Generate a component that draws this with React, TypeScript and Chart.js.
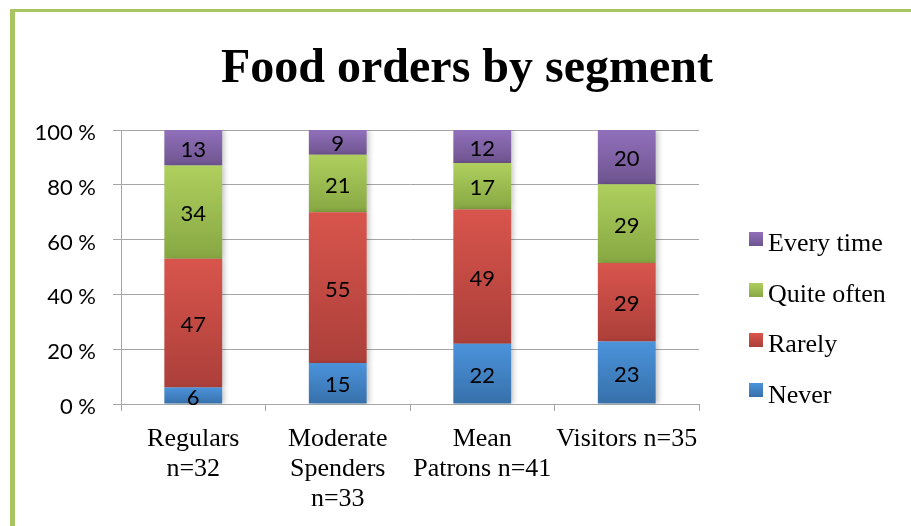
import React, { useEffect, useRef } from "react";
import { Chart, registerables } from "chart.js";

Chart.register(...registerables);

const title = "Food orders by segment";
const categories: string[][] = [
  ["Regulars", "n=32"],
  ["Moderate", "Spenders", "n=33"],
  ["Mean", "Patrons n=41"],
  ["Visitors n=35"],
];
const seriesNames = ["Never", "Rarely", "Quite often", "Every time"];
const never = [6, 15, 22, 23];
const rarely = [47, 55, 49, 29];
const quiteOften = [34, 21, 17, 29];
const everyTime = [13, 9, 12, 20];
const yTicks = [0, 20, 40, 60, 80, 100];

const seriesValues = [never, rarely, quiteOften, everyTime];
const colorTop = ["#4b93db", "#d8554c", "#afd05e", "#9170bb"];
const colorBottom = ["#3770aa", "#ac3f3a", "#87a743", "#6e548f"];

const totals = categories.map((_, i) => seriesValues.reduce((s, arr) => s + arr[i], 0));
const percents = seriesValues.map((arr) => arr.map((v, i) => (v / totals[i]) * 100));

function makeBg(dsi: number) {
  return (ctx: any) => {
    const chart = ctx.chart;
    const y = chart.scales && chart.scales.y;
    if (ctx.type !== "data" || !y) return colorTop[dsi];
    const di = ctx.dataIndex;
    let start = 0;
    for (let k = 0; k < dsi; k++) start += percents[k][di];
    const end = start + percents[dsi][di];
    const yt = y.getPixelForValue(end);
    const yb = y.getPixelForValue(start);
    if (!isFinite(yt) || !isFinite(yb) || yt === yb) return colorTop[dsi];
    const g = chart.ctx.createLinearGradient(0, yt, 0, yb);
    g.addColorStop(0, colorTop[dsi]);
    g.addColorStop(1, colorBottom[dsi]);
    return g;
  };
}

const shadowPlugin = {
  id: "barShadow",
  beforeDatasetDraw(chart: any) {
    const c = chart.ctx;
    c.save();
    c.shadowColor = "rgba(0,0,0,0.22)";
    c.shadowBlur = 5;
    c.shadowOffsetX = 3;
    c.shadowOffsetY = 0;
  },
  afterDatasetDraw(chart: any) {
    chart.ctx.restore();
  },
};

const labelPlugin = {
  id: "segLabels",
  afterDatasetsDraw(chart: any) {
    const c = chart.ctx;
    c.save();
    c.font = "22px Lato";
    c.fillStyle = "#000";
    c.textAlign = "center";
    c.textBaseline = "middle";
    chart.data.datasets.forEach((ds: any, dsi: number) => {
      const meta = chart.getDatasetMeta(dsi);
      meta.data.forEach((el: any, i: number) => {
        const p = el.getProps(["x", "y", "base"], true);
        const cy = (p.y + p.base) / 2 + 2;
        c.fillText(String(seriesValues[dsi][i]), p.x, cy);
      });
    });
    c.restore();
  },
};

const titleLegendPlugin = {
  id: "titleLegend",
  afterDraw(chart: any) {
    const c = chart.ctx;
    c.save();
    c.fillStyle = "#000";
    c.font = "bold 48px 'Liberation Serif'";
    c.textAlign = "center";
    c.textBaseline = "alphabetic";
    c.fillText(title, 467, 82);

    const boxX = 749;
    const boxSize = 14;
    const tops = [232, 283, 333, 383];
    const baselines = [251, 302, 352, 403];
    c.font = "26px 'Liberation Serif'";
    c.textAlign = "left";
    c.textBaseline = "alphabetic";
    for (let k = 0; k < seriesNames.length; k++) {
      const dsi = seriesNames.length - 1 - k;
      const t = tops[k];
      const g = c.createLinearGradient(0, t, 0, t + boxSize);
      g.addColorStop(0, colorTop[dsi]);
      g.addColorStop(1, colorBottom[dsi]);
      c.fillStyle = g;
      c.fillRect(boxX, t, boxSize, boxSize);
      c.fillStyle = "#000";
      c.fillText(seriesNames[dsi], boxX + 19, baselines[k]);
    }
    c.restore();
  },
};

export default function App() {
  const ref = useRef<HTMLCanvasElement | null>(null);
  useEffect(() => {
    document.body.style.margin = "0";
    if (!ref.current) return;
    const chart = new Chart(ref.current, {
      type: "bar",
      data: {
        labels: categories,
        datasets: seriesNames.map((name, dsi) => ({
          label: name,
          data: percents[dsi],
          backgroundColor: makeBg(dsi),
          borderWidth: 0,
          categoryPercentage: 1,
          barPercentage: 0.4,
        })),
      },
      options: {
        animation: false,
        responsive: true,
        maintainAspectRatio: false,
        layout: { padding: { top: 130, right: 212, left: 0, bottom: 0 } },
        plugins: {
          legend: { display: false },
          title: { display: false },
          tooltip: { enabled: false },
        },
        scales: {
          x: {
            stacked: true,
            afterFit: (s: any) => {
              s.height = 122;
            },
            grid: {
              drawOnChartArea: false,
              drawTicks: true,
              tickLength: 7,
              color: "#a6a6a6",
              offset: true,
            },
            border: { color: "#a6a6a6", width: 1 },
            ticks: {
              color: "#000",
              maxRotation: 0,
              autoSkip: false,
              padding: 13,
              font: { family: "'Liberation Serif'", size: 26, lineHeight: 30 / 26 },
            },
          },
          y: {
            stacked: true,
            min: 0,
            max: 100,
            afterFit: (s: any) => {
              s.width = 121;
            },
            afterBuildTicks: (s: any) => {
              s.ticks = yTicks.map((v) => ({ value: v }));
            },
            grid: { color: "#a6a6a6", tickLength: 8, lineWidth: 1 },
            border: { color: "#a6a6a6", width: 1 },
            ticks: {
              color: "#000",
              padding: 17,
              labelOffset: 3,
              font: { family: "Lato", size: 22 },
              callback: (v: any) => v + " %",
            },
          },
        },
      },
      plugins: [shadowPlugin, labelPlugin, titleLegendPlugin],
    });
    return () => chart.destroy();
  }, []);

  return (
    <div style={{ position: "fixed", left: 0, top: 0, width: 911, height: 526, background: "#fff", overflow: "hidden" }}>
      <canvas ref={ref} />
      <div style={{ position: "absolute", left: 10, top: 9, width: 901, height: 3, background: "#a9c562" }} />
      <div style={{ position: "absolute", left: 10, top: 9, width: 5, height: 517, background: "#a9c562" }} />
    </div>
  );
}
